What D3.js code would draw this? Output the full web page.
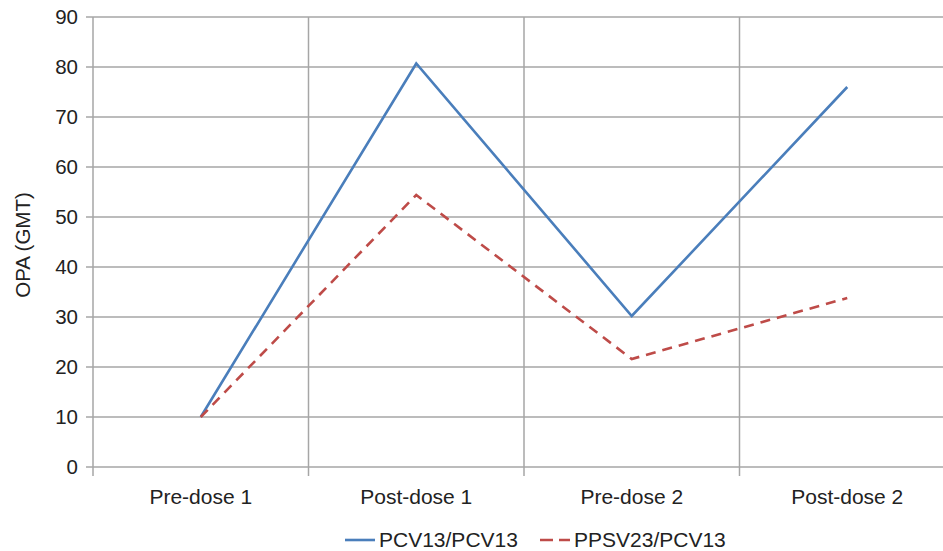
<!DOCTYPE html>
<html>
<head>
<meta charset="UTF-8">
<title>OPA GMT</title>
<script src="https://cdnjs.cloudflare.com/ajax/libs/d3/7.8.5/d3.min.js"></script>
<style>
  body { margin: 0; background: #fff; }
  text { font-family: "Liberation Sans", Arial, sans-serif; fill: #222; }
</style>
</head>
<body>
<svg id="chart" width="943" height="551"></svg>
<script>
var categories = ["Pre-dose 1", "Post-dose 1", "Pre-dose 2", "Post-dose 2"];
var pcv13 = [10, 80.7, 30.2, 76];
var ppsv23 = [10, 54.4, 21.6, 33.8];
var yTicks = [0, 10, 20, 30, 40, 50, 60, 70, 80, 90];

var series = [
  {name: "PCV13/PCV13", values: pcv13, color: "#4a7ebb", dash: null},
  {name: "PPSV23/PCV13", values: ppsv23, color: "#be4b48", dash: "10,7"}
];

var svg = d3.select("#chart");
// plot box (right edge runs past the picture, as in the reference)
var plotL = 93, plotR = 955, plotT = 17, plotB = 467;

var x = d3.scaleBand().domain(categories).range([plotL, plotR]);
var y = d3.scaleLinear().domain([0, 90]).range([plotB, plotT]);

var grid = "#a6a6a6";

// horizontal gridlines
svg.append("g").selectAll("line").data(yTicks).join("line")
  .attr("x1", plotL - 7).attr("x2", 943)
  .attr("y1", d => y(d)).attr("y2", d => y(d))
  .attr("stroke", grid).attr("stroke-width", 1.5);

// vertical gridlines at category edges
var edges = categories.map(c => x(c));
svg.append("g").selectAll("line").data(edges).join("line")
  .attr("x1", d => d).attr("x2", d => d)
  .attr("y1", plotT).attr("y2", plotB + 9)
  .attr("stroke", grid).attr("stroke-width", 1.5);

// y axis labels
svg.append("g").selectAll("text").data(yTicks).join("text")
  .attr("x", 78).attr("y", d => y(d))
  .attr("dy", "0.35em")
  .attr("text-anchor", "end")
  .attr("font-size", 20.5)
  .text(d => d);

// x labels
svg.append("g").selectAll("text").data(categories).join("text")
  .attr("x", d => x(d) + x.bandwidth() / 2).attr("y", 497)
  .attr("dy", "0.35em")
  .attr("text-anchor", "middle")
  .attr("font-size", 21)
  .text(d => d);

// y title
svg.append("text")
  .attr("transform", "translate(23,245) rotate(-90)")
  .attr("dy", "0.35em")
  .attr("text-anchor", "middle")
  .attr("font-size", 20.5)
  .text("OPA (GMT)");

var line = d3.line()
  .x((d, i) => x(categories[i]) + x.bandwidth() / 2)
  .y(d => y(d));

series.forEach(function (s) {
  svg.append("path")
    .attr("d", line(s.values))
    .attr("fill", "none")
    .attr("stroke", s.color)
    .attr("stroke-width", 2.6)
    .attr("stroke-dasharray", s.dash);
});

// legend
var legendPos = [345, 540];
series.forEach(function (s, i) {
  var g = svg.append("g").attr("transform", "translate(" + legendPos[i] + ",540)");
  g.append("line")
    .attr("x1", 0).attr("x2", 30)
    .attr("stroke", s.color).attr("stroke-width", 2.6)
    .attr("stroke-dasharray", s.dash ? "13,6" : null);
  g.append("text")
    .attr("x", 34).attr("dy", "0.35em")
    .attr("font-size", 21)
    .text(s.name);
});
</script>
</body>
</html>
